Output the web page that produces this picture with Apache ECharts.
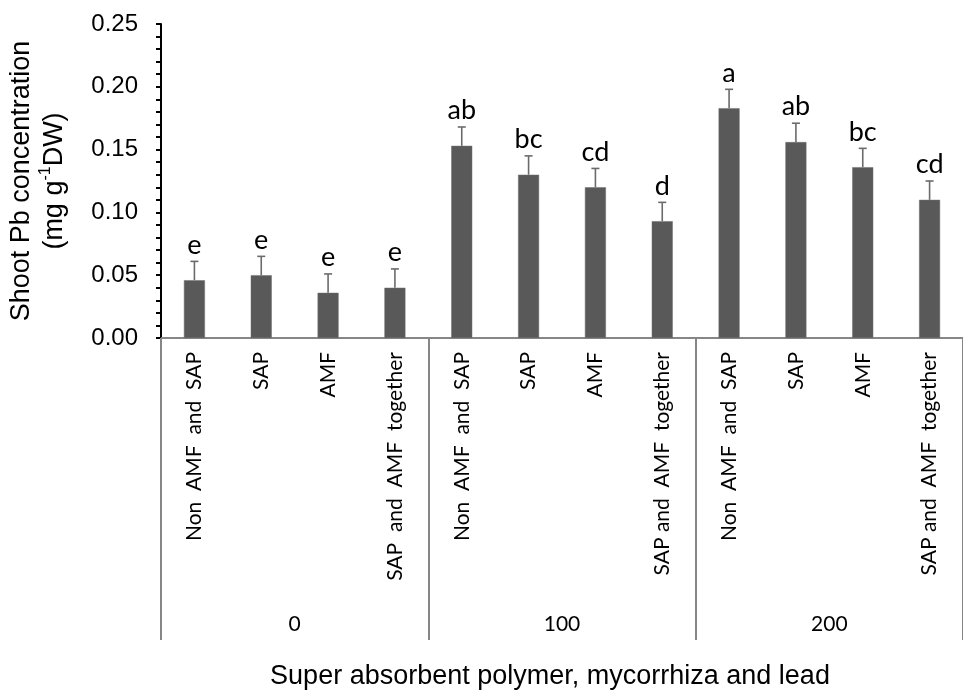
<!DOCTYPE html>
<html>
<head>
<meta charset="utf-8">
<script src="https://cdn.jsdelivr.net/npm/echarts@6/dist/echarts.min.js"></script>
<style>
  html, body { margin: 0; padding: 0; background: #fff; }
  #chart { width: 963px; height: 693px; }
</style>
</head>
<body>
<div id="chart"></div>
<script>
// treatments within each lead level
const treatments = [
  'Non  AMF  and  SAP', 'SAP', 'AMF', 'SAP  and  AMF  together',
  'Non  AMF  and  SAP', 'SAP', 'AMF', 'SAP and  AMF  together',
  'Non  AMF  and  SAP', 'SAP', 'AMF', 'SAP and  AMF  together'
]
const leadLevels = ['0', '100', '200']

const pbMeans = [0.046, 0.050, 0.036, 0.040, 0.153, 0.130, 0.120, 0.093, 0.183, 0.156, 0.136, 0.110]
const pbErrors = [0.015, 0.015, 0.015, 0.015, 0.015, 0.015, 0.015, 0.015, 0.015, 0.015, 0.015, 0.015]
const letters = ['e', 'e', 'e', 'e', 'ab', 'bc', 'cd', 'd', 'a', 'ab', 'bc', 'cd']

const yTicks = [0, 0.05, 0.10, 0.15, 0.20, 0.25]

const chart = echarts.init(document.getElementById('chart'))

const errData = pbMeans.map((v, i) => [i, v, pbErrors[i]])

const option = {
  animation: false,
  grid: { left: 160, right: -6, top: 24, bottom: 355 },
  xAxis: [
    {
      type: 'category',
      data: treatments,
      axisLine: { lineStyle: { color: '#868686', width: 2 } },
      axisTick: { show: false },
      axisLabel: {
        rotate: 90,
        margin: 14,
        interval: 0,
        fontFamily: 'Lato',
        fontSize: 21,
        color: '#000'
      }
    },
    {
      type: 'category',
      data: leadLevels,
      position: 'bottom',
      axisLine: { show: false },
      axisTick: { show: true, length: 302, lineStyle: { color: '#868686', width: 2 } },
      axisLabel: {
        margin: 276,
        fontFamily: 'Lato',
        fontSize: 21,
        color: '#000'
      }
    }
  ],
  yAxis: {
    type: 'value',
    min: yTicks[0],
    max: yTicks[yTicks.length - 1],
    interval: 0.05,
    splitLine: { show: false },
    axisLine: { show: true, lineStyle: { color: '#000', width: 2 } },
    axisTick: { show: true, length: 5, lineStyle: { color: '#000', width: 2 } },
    minorTick: { show: true, splitNumber: 5, length: 5, lineStyle: { color: '#000', width: 2 } },
    axisLabel: {
      margin: 23,
      fontFamily: 'Liberation Sans',
      fontSize: 24,
      color: '#000',
      formatter: v => v.toFixed(2)
    },
    name: '{a|Shoot Pb concentration}\n{a|(mg g}{s|-1}{a|DW)}',
    nameLocation: 'middle',
    nameRotate: 90,
    nameGap: 90,
    nameTextStyle: {
      rich: {
        a: { fontFamily: 'Liberation Sans', fontSize: 27, lineHeight: 33, color: '#000' },
        s: { fontFamily: 'Liberation Sans', fontSize: 16, lineHeight: 33, color: '#000', verticalAlign: 'top' }
      }
    }
  },
  series: [
    {
      type: 'bar',
      data: pbMeans,
      barWidth: 21,
      itemStyle: { color: '#595959', borderColor: '#6e6e6e', borderWidth: 0.5 }
    },
    {
      type: 'custom',
      data: errData,
      z: 5,
      renderItem: (params, api) => {
        const x = api.coord([api.value(0), 0])[0]
        const yTop = api.coord([api.value(0), api.value(1) + api.value(2)])[1]
        const yMid = api.coord([api.value(0), api.value(1)])[1]
        const style = { stroke: '#6b6b6b', lineWidth: 1.6 }
        return {
          type: 'group',
          children: [
            { type: 'line', shape: { x1: x, y1: yMid, x2: x, y2: yTop }, style },
            { type: 'line', shape: { x1: x - 4, y1: yTop, x2: x + 4, y2: yTop }, style },
            {
              type: 'text',
              x: x,
              y: yTop - 3,
              style: {
                text: letters[params.dataIndex],
                textAlign: 'center',
                textVerticalAlign: 'bottom',
                fontFamily: 'Lato',
                fontSize: 27,
                fill: '#000'
              }
            }
          ]
        }
      }
    }
  ],
  graphic: [
    {
      type: 'text',
      x: 550,
      y: 663,
      style: {
        text: 'Super absorbent polymer, mycorrhiza and lead',
        fontFamily: 'Liberation Sans',
        fontSize: 27,
        fill: '#000',
        textAlign: 'center'
      }
    }
  ]
}

chart.setOption(option)
</script>
</body>
</html>
